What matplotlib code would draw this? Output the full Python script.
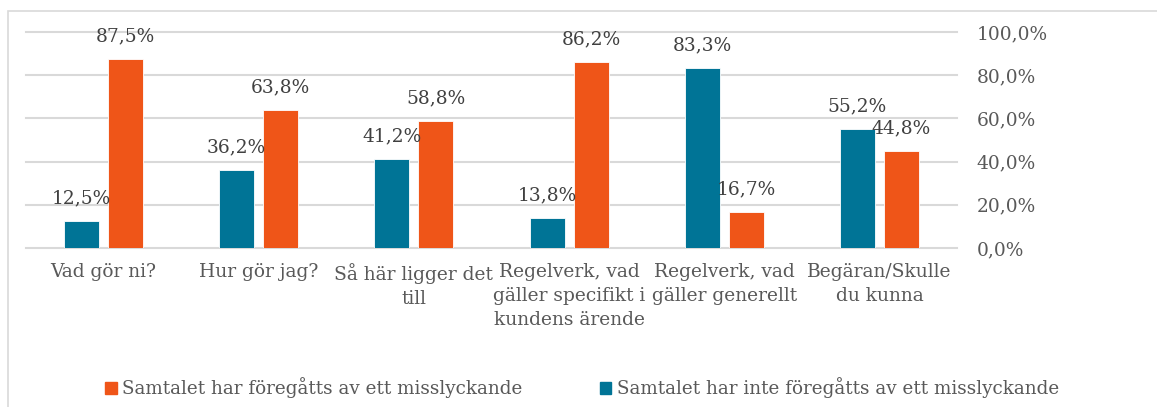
import matplotlib
matplotlib.use("Agg")
import matplotlib.pyplot as plt
import matplotlib.patches as mpatches
import numpy as np

categories = ["Vad gör ni?", "Hur gör jag?", "Så här ligger det\ntill",
              "Regelverk, vad\ngäller specifikt i\nkundens ärende",
              "Regelverk, vad\ngäller generellt", "Begäran/Skulle\ndu kunna"]
inte_foregatts = [12.5, 36.2, 41.2, 13.8, 83.3, 55.2]
foregatts = [87.5, 63.8, 58.8, 86.2, 16.7, 44.8]
yticks = [0, 20, 40, 60, 80, 100]
label_foregatts = "Samtalet har föregåtts av ett misslyckande"
label_inte = "Samtalet har inte föregåtts av ett misslyckande"

BLUE = "#007496"
ORANGE = "#EF5518"
TEXT = "#595959"
DLABEL = "#404040"
GRID = "#D9D9D9"
FONT = "DejaVu Serif"
plt.rcParams['font.family'] = [FONT, 'DejaVu Sans']

W, H = 1157, 407
fig = plt.figure(figsize=(W / 100, H / 100), dpi=100)
ax = fig.add_axes([26 / W, (H - 248) / H, (957 - 26) / W, (248 - 32) / H])

x = np.arange(len(categories))
bw = 0.225
off = 0.142
b1 = ax.bar(x - off, inte_foregatts, bw, color=BLUE, edgecolor="white", linewidth=0.6, zorder=3)
b2 = ax.bar(x + off, foregatts, bw, color=ORANGE, edgecolor="white", linewidth=0.6, zorder=3)

fs = 13.4
for bars, vals in ((b1, inte_foregatts), (b2, foregatts)):
    for r, v in zip(bars, vals):
        ax.annotate(f"{v:.1f}%".replace(".", ","),
                    (r.get_x() + r.get_width() / 2, v),
                    xytext=(0, 10), textcoords="offset points",
                    ha="center", va="bottom", fontsize=fs, color=DLABEL)

ax.set_xlim(-0.5, len(categories) - 0.5)
ax.set_ylim(0, 100)
ax.set_yticks(yticks)
ax.set_yticklabels([f"{t:.1f}%".replace(".", ",") for t in yticks])
ax.yaxis.tick_right()
ax.tick_params(axis="y", length=0, pad=14, labelsize=fs, labelcolor=TEXT)
ax.set_xticks(x)
ax.set_xticklabels(categories, linespacing=1.42)
ax.tick_params(axis="x", length=0, pad=11, labelsize=fs, labelcolor=TEXT)
ax.grid(axis="y", color=GRID, linewidth=1.5, zorder=0)
for gl in ax.get_ygridlines():
    gl.set_clip_on(False)
for s in ax.spines.values():
    s.set_visible(False)

# outer chart border
fig.patches.append(mpatches.Rectangle((8 / W, -0.1), 1.2, (H - 11) / H + 0.1,
                                      transform=fig.transFigure, fill=False,
                                      edgecolor=GRID, linewidth=1.2))

handles = [mpatches.Patch(color=ORANGE), mpatches.Patch(color=BLUE)]
fig.legend(handles, [label_foregatts, label_inte], loc="center",
           bbox_to_anchor=(582 / W, (H - 388) / H), ncol=2, frameon=False,
           fontsize=13.2, labelcolor=TEXT, handlelength=0.65, handleheight=0.65,
           handletextpad=0.3, columnspacing=4.2)

fig.savefig("out.png", dpi=100)
